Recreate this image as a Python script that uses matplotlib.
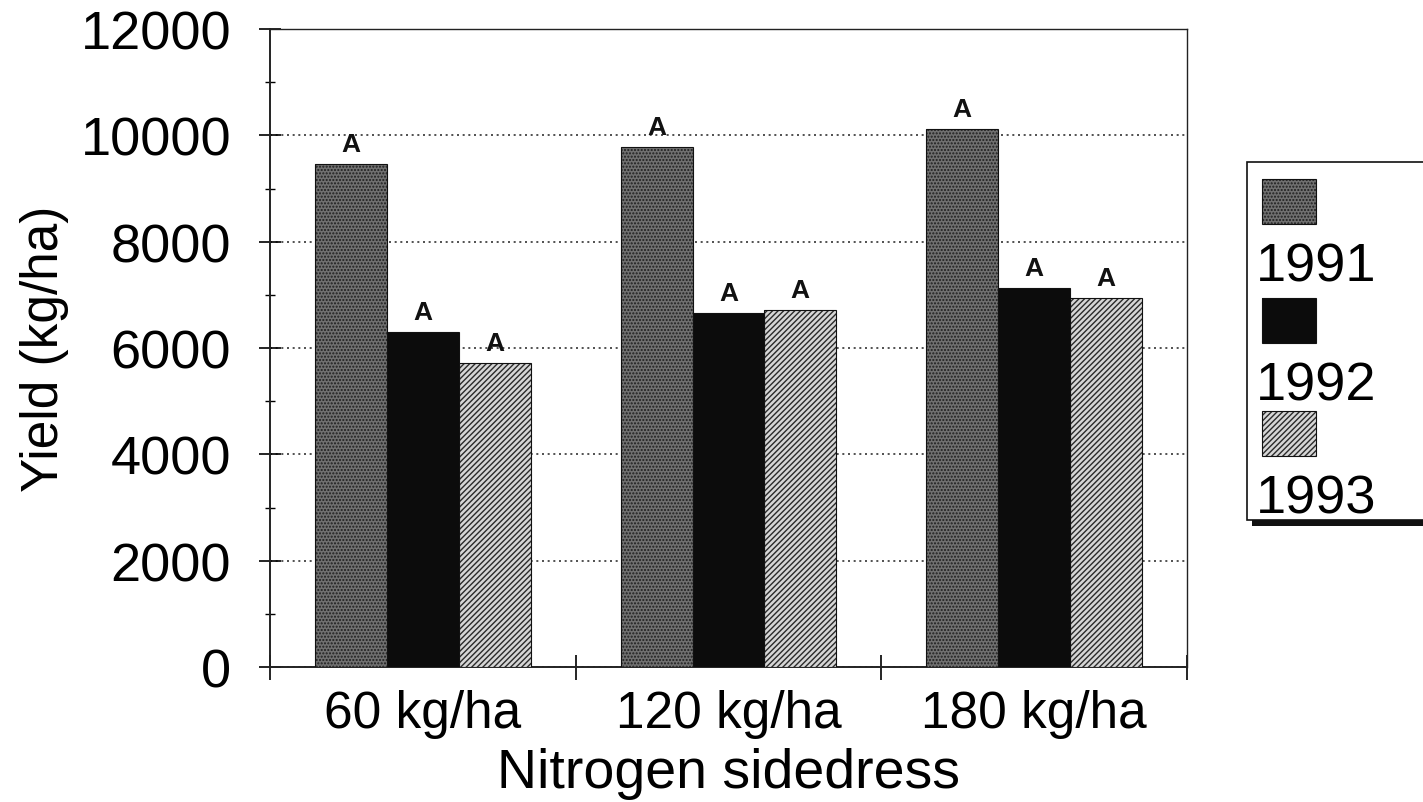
import numpy as np
import matplotlib.pyplot as plt
from matplotlib.patches import Rectangle
from matplotlib.ticker import MultipleLocator, FixedLocator

# Dati
doses = ['60 kg/ha', '120 kg/ha', '180 kg/ha']
years = ['1991', '1992', '1993']
yield_1991 = [9460, 9780, 10120]
yield_1992 = [6300, 6650, 7130]
yield_1993 = [5720, 6710, 6940]
letters_1991 = ['A', 'A', 'A']
letters_1992 = ['A', 'A', 'A']
letters_1993 = ['A', 'A', 'A']

# Stili delle serie (colore, hatch, colore hatch)
styles = [
    dict(facecolor='#707070', hatch='.....', edgecolor='#1e1e1e'),
    dict(facecolor='#0c0c0c', hatch=None, edgecolor='#0c0c0c'),
    dict(facecolor='#d6d6d6', hatch='//////', edgecolor='#2a2a2a'),
]

plt.rcParams['font.family'] = ['Liberation Sans', 'DejaVu Sans']
plt.rcParams['hatch.linewidth'] = 1.0

fig = plt.figure(figsize=(14.23, 8.03), dpi=100)
ax = fig.add_axes([270 / 1423, 1 - 668 / 803, (1187 - 270) / 1423, (668 - 30) / 803])

x = np.arange(len(doses))
w = 0.235
series = [yield_1991, yield_1992, yield_1993]
letters = [letters_1991, letters_1992, letters_1993]
for i, (vals, st) in enumerate(zip(series, styles)):
    pos = x + (i - 1) * w
    ax.bar(pos, vals, width=w, facecolor=st['facecolor'], hatch=st['hatch'],
           edgecolor=st['edgecolor'], linewidth=0, zorder=3)
    ax.bar(pos, vals, width=w, fill=False, edgecolor='#111111', linewidth=0.8, zorder=4)
    for p, v, l in zip(pos, vals, letters[i]):
        ax.annotate(l, (p, v), xytext=(0, 6), textcoords='offset points',
                    ha='center', va='bottom', fontsize=19, fontweight='bold', color='#111111')

ax.set_xlim(-0.5, 2.5)
ax.set_ylim(0, 12000)

# Assi e tick
ax.yaxis.set_major_locator(MultipleLocator(2000))
ax.yaxis.set_minor_locator(MultipleLocator(1000))
ax.xaxis.set_major_locator(FixedLocator([-0.5, 0.5, 1.5, 2.5]))
ax.xaxis.set_minor_locator(FixedLocator(x))
ax.set_xticklabels([])
ax.set_xticklabels(doses, minor=True)
ax.tick_params(axis='x', which='major', direction='inout', length=18, width=1.2)
ax.tick_params(axis='x', which='minor', length=0, labelsize=37, pad=16)
ax.tick_params(axis='y', which='major', direction='inout', length=16, width=1.2, labelsize=39, pad=20)
ax.tick_params(axis='y', which='minor', direction='inout', length=7, width=1.0)

ax.grid(axis='y', which='major', linestyle=(0, (1.2, 2.2)), color='#333333', linewidth=1.2, zorder=0)
for s in ax.spines.values():
    s.set_linewidth(1.0)
    s.set_color('#222222')
ax.spines['left'].set_linewidth(1.4)
ax.spines['bottom'].set_linewidth(1.4)

ax.set_ylabel('Yield (kg/ha)', fontsize=37, labelpad=8)
ax.set_xlabel('Nitrogen sidedress', fontsize=40, labelpad=6)

# Legenda disegnata a mano (patch sopra, testo sotto)
def fx(px):
    return px / 1423

def fy(py):
    return 1 - py / 803

fig.add_artist(Rectangle((fx(1252), fy(527)), fx(200), fy(167) - fy(527), transform=fig.transFigure,
                         facecolor='#111111', edgecolor='none'))
fig.add_artist(Rectangle((fx(1247), fy(521)), fx(200), fy(163) - fy(521), transform=fig.transFigure,
                         facecolor='white', edgecolor='#111111', linewidth=1.2))
patch_tops = [180, 299, 412]
for yr, st, top in zip(years, styles, patch_tops):
    fig.add_artist(Rectangle((fx(1262), fy(top + 45)), fx(54), fy(top) - fy(top + 45),
                             transform=fig.transFigure, facecolor=st['facecolor'], hatch=st['hatch'],
                             edgecolor=st['edgecolor'], linewidth=0))
    fig.add_artist(Rectangle((fx(1262), fy(top + 45)), fx(54), fy(top) - fy(top + 45),
                             transform=fig.transFigure, fill=False, edgecolor='#111111', linewidth=0.8))
    fig.text(fx(1256), fy(top + 88), yr, fontsize=39, ha='left', va='center')

fig.savefig('out.png', dpi=100)
